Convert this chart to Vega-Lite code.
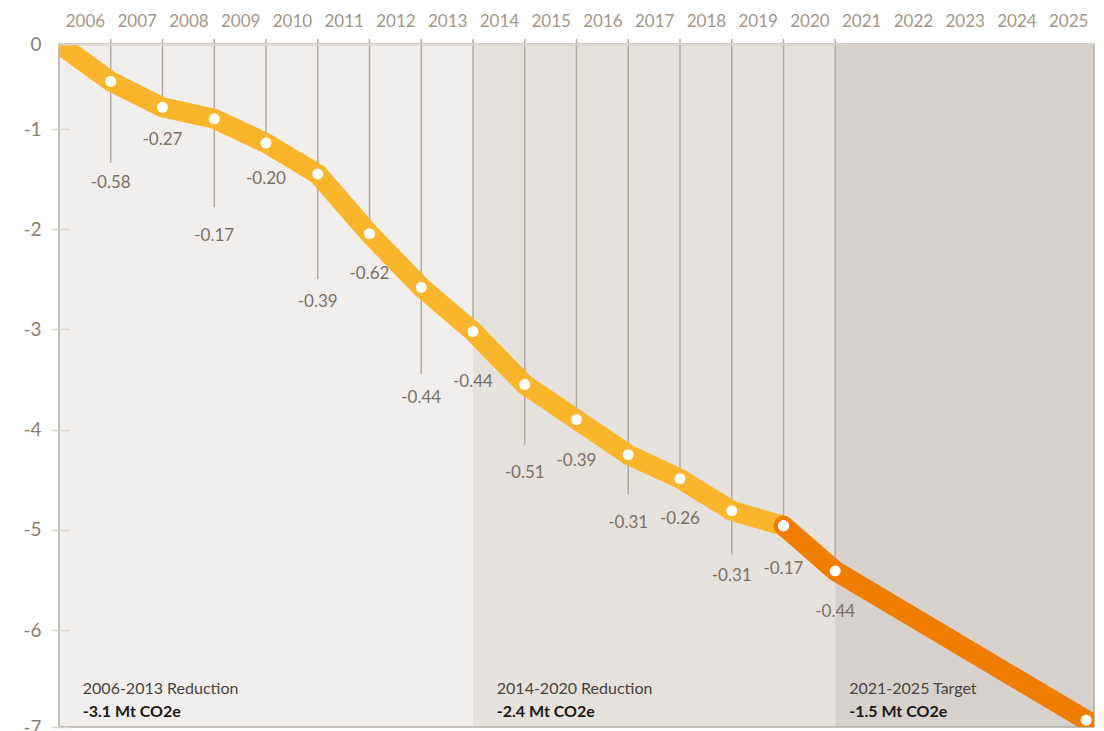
{
  "$schema": "https://vega.github.io/schema/vega-lite/v6.json",
  "width": 1035,
  "height": 683,
  "autosize": {"type": "none"},
  "padding": {"left": 59, "top": 44, "right": 10, "bottom": 4},
  "background": "#ffffff",
  "config": {"view": {"stroke": null}, "font": "Lato"},
  "resolve": {"scale": {"color": "independent"}},
  "datasets": {
    "bands": [
      {"period": "2006-2013", "from": 0, "to": 8},
      {"period": "2014-2020", "from": 8, "to": 15},
      {"period": "2021-2025", "from": 15, "to": 20}
    ],
    "frame": [{"from": 0, "to": 20}],
    "path": [
      {"t": 0, "v": 0, "seg": "2006-2019"},
      {"t": 1, "v": -0.44, "seg": "2006-2019"},
      {"t": 2, "v": -0.745, "seg": "2006-2019"},
      {"t": 3, "v": -0.88, "seg": "2006-2019"},
      {"t": 4, "v": -1.14, "seg": "2006-2019"},
      {"t": 5, "v": -1.45, "seg": "2006-2019"},
      {"t": 6, "v": -2.045, "seg": "2006-2019"},
      {"t": 7, "v": -2.58, "seg": "2006-2019"},
      {"t": 8, "v": -3.02, "seg": "2006-2019"},
      {"t": 9, "v": -3.55, "seg": "2006-2019"},
      {"t": 10, "v": -3.9, "seg": "2006-2019"},
      {"t": 11, "v": -4.25, "seg": "2006-2019"},
      {"t": 12, "v": -4.49, "seg": "2006-2019"},
      {"t": 13, "v": -4.81, "seg": "2006-2019"},
      {"t": 14, "v": -4.96, "seg": "2006-2019"},
      {"t": 14, "v": -4.96, "seg": "2019-2025"},
      {"t": 15, "v": -5.41, "seg": "2019-2025"},
      {"t": 19.85, "v": -6.93, "seg": "2019-2025"}
    ],
    "years": [
      {"year": 2006, "t": 1, "v": -0.44, "change": "-0.58", "lineEnd": -1.34, "labelY": -1.54},
      {"year": 2007, "t": 2, "v": -0.745, "change": "-0.27", "lineEnd": -0.745, "labelY": -1.11},
      {"year": 2008, "t": 3, "v": -0.88, "change": "-0.17", "lineEnd": -1.78, "labelY": -2.07},
      {"year": 2009, "t": 4, "v": -1.14, "change": "-0.20", "lineEnd": -1.14, "labelY": -1.5},
      {"year": 2010, "t": 5, "v": -1.45, "change": "-0.39", "lineEnd": -2.5, "labelY": -2.73},
      {"year": 2011, "t": 6, "v": -2.045, "change": "-0.62", "lineEnd": -2.045, "labelY": -2.45},
      {"year": 2012, "t": 7, "v": -2.58, "change": "-0.44", "lineEnd": -3.445, "labelY": -3.685},
      {"year": 2013, "t": 8, "v": -3.02, "change": "-0.44", "lineEnd": -3.02, "labelY": -3.525},
      {"year": 2014, "t": 9, "v": -3.55, "change": "-0.51", "lineEnd": -4.15, "labelY": -4.43},
      {"year": 2015, "t": 10, "v": -3.9, "change": "-0.39", "lineEnd": -3.9, "labelY": -4.31},
      {"year": 2016, "t": 11, "v": -4.25, "change": "-0.31", "lineEnd": -4.645, "labelY": -4.93},
      {"year": 2017, "t": 12, "v": -4.49, "change": "-0.26", "lineEnd": -4.49, "labelY": -4.89},
      {"year": 2018, "t": 13, "v": -4.81, "change": "-0.31", "lineEnd": -5.25, "labelY": -5.46},
      {"year": 2019, "t": 14, "v": -4.96, "change": "-0.17", "lineEnd": -4.96, "labelY": -5.39},
      {"year": 2020, "t": 15, "v": -5.41, "change": "-0.44", "lineEnd": -5.41, "labelY": -5.82}
    ],
    "notes": [
      {"at": 0.46, "title": "2006-2013 Reduction", "total": "-3.1 Mt CO2e"},
      {"at": 8.46, "title": "2014-2020 Reduction", "total": "-2.4 Mt CO2e"},
      {"at": 15.27, "title": "2021-2025 Target", "total": "-1.5 Mt CO2e"}
    ]
  },
  "layer": [
    {
      "data": {"name": "bands"},
      "mark": {"type": "rect"},
      "encoding": {
        "x": {
          "field": "from", "type": "quantitative",
          "scale": {"domain": [0, 20], "nice": false, "zero": false},
          "axis": {
            "orient": "top",
            "values": [0.5, 1.5, 2.5, 3.5, 4.5, 5.5, 6.5, 7.5, 8.5, 9.5, 10.5, 11.5, 12.5, 13.5, 14.5, 15.5, 16.5, 17.5, 18.5, 19.5],
            "labelExpr": "'' + (2006 + floor(datum.value))",
            "ticks": false,
            "grid": false,
            "domain": true,
            "domainColor": "#dcd6d0",
            "domainWidth": 2,
            "labelColor": "#a39689",
            "labelFontSize": 17,
            "labelFont": "Lato",
            "labelBaseline": "alphabetic",
            "labelPadding": 18,
            "labelFlush": false,
            "labelOverlap": false,
            "title": null,
            "zindex": 1
          }
        },
        "x2": {"field": "to"},
        "color": {
          "field": "period", "type": "nominal",
          "scale": {"domain": ["2006-2013", "2014-2020", "2021-2025"], "range": ["#f1efed", "#e5e1dd", "#d6d1cc"]},
          "legend": null
        }
      }
    },
    {
      "data": {"name": "frame"},
      "mark": {"type": "rect", "fill": null, "stroke": "#b5ada5", "strokeWidth": 1.5},
      "encoding": {
        "x": {"field": "from", "type": "quantitative"},
        "x2": {"field": "to"}
      }
    },
    {
      "data": {"name": "years"},
      "mark": {"type": "rule", "color": "#b3aaa2", "strokeWidth": 1.5},
      "encoding": {
        "x": {"field": "t", "type": "quantitative"},
        "y": {
          "field": "lineEnd", "type": "quantitative",
          "scale": {"domain": [0, -1, -6, -7], "range": [0, 85, 586, 683], "nice": false, "zero": false},
          "axis": {
            "orient": "left",
            "values": [0, -1, -2, -3, -4, -5, -6, -7],
            "labelExpr": "'' + datum.value",
            "offset": -10,
            "domain": false,
            "grid": false,
            "ticks": true,
            "tickSize": 18,
            "tickWidth": 1.5,
            "tickColor": "#d9d3cc",
            "tickOpacity": {"condition": {"test": "datum.value == 0", "value": 0}, "value": 1},
            "labelPadding": 10,
            "labelColor": "#8c8074",
            "labelFontSize": 19,
            "labelFont": "Lato",
            "labelFlush": false,
            "labelOverlap": false,
            "title": null,
            "zindex": 1
          }
        },
        "y2": {"datum": 0.06}
      }
    },
    {
      "data": {"name": "path"},
      "mark": {"type": "line", "strokeWidth": 20, "strokeCap": "round", "strokeJoin": "miter", "clip": true},
      "encoding": {
        "x": {"field": "t", "type": "quantitative"},
        "y": {"field": "v", "type": "quantitative"},
        "color": {
          "field": "seg", "type": "nominal",
          "scale": {"domain": ["2006-2019", "2019-2025"], "range": ["#f9b52b", "#ef7d00"]},
          "legend": null
        }
      }
    },
    {
      "data": {"name": "path"},
      "transform": [{"filter": "datum.t > 0"}],
      "mark": {"type": "circle", "size": 120, "color": "#ffffff", "opacity": 1},
      "encoding": {
        "x": {"field": "t", "type": "quantitative"},
        "y": {"field": "v", "type": "quantitative"}
      }
    },
    {
      "data": {"name": "years"},
      "mark": {"type": "text", "fontSize": 17, "font": "Lato", "color": "#7b6f64", "align": "center", "baseline": "middle"},
      "encoding": {
        "x": {"field": "t", "type": "quantitative"},
        "y": {"field": "labelY", "type": "quantitative"},
        "text": {"field": "change"}
      }
    },
    {
      "data": {"name": "notes"},
      "mark": {"type": "text", "fontSize": 16, "font": "Lato", "color": "#4a423c", "align": "left", "baseline": "middle"},
      "encoding": {
        "x": {"field": "at", "type": "quantitative"},
        "y": {"datum": -6.61, "type": "quantitative"},
        "text": {"field": "title"}
      }
    },
    {
      "data": {"name": "notes"},
      "mark": {"type": "text", "fontSize": 16, "font": "Lato", "fontWeight": "bold", "color": "#1b1816", "align": "left", "baseline": "middle"},
      "encoding": {
        "x": {"field": "at", "type": "quantitative"},
        "y": {"datum": -6.845, "type": "quantitative"},
        "text": {"field": "total"}
      }
    }
  ]
}
